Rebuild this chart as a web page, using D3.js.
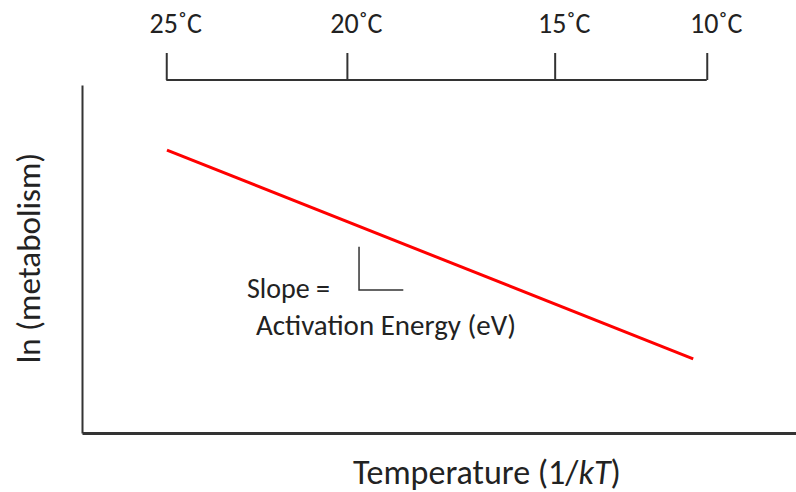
<!DOCTYPE html>
<html>
<head>
<meta charset="utf-8">
<script src="https://cdn.jsdelivr.net/npm/d3@7"></script>
<style>
  html, body { margin: 0; padding: 0; background: #fff; }
  svg { display: block; font-family: Carlito, Lato, "Open Sans", sans-serif; }
</style>
</head>
<body>
<svg id="chart" width="796" height="492"></svg>
<script>
// Temperature ticks on the top axis (position in 1/kT-like units, arbitrary scale)
const tempLabels = ["25˚C", "20˚C", "15˚C", "10˚C"];
const tempPositions = [11.8, 37.1, 66.2, 87.5];

// Red line: ln(metabolism) vs 1/kT (arbitrary units)
const lineX = [11.9, 85.6];
const lineY = [81.3, 21.3];

// Slope annotation corner (x, y in data units)
const slopeX = [38.8, 45.0];
const slopeY = [53.5, 41.1];

const axisLabelX = "Temperature (1/kT)";
const axisLabelY = "ln (metabolism)";
const slopeText = ["Slope =", "Activation Energy (eV)"];

const svg = d3.select("#chart");
const x = d3.scaleLinear().domain([0, 100]).range([82, 796]);
const y = d3.scaleLinear().domain([0, 100]).range([433, 85]);

const axisColor = "#333";
const textColor = "#222";
const FONT = "Carlito, Lato, sans-serif";

// Left / bottom axis lines (no ticks)
svg.append("g")
  .attr("transform", `translate(0,${y(0)})`)
  .call(d3.axisBottom(x).tickValues([]).tickSizeOuter(0))
  .call(g => g.select(".domain").attr("stroke", axisColor).attr("stroke-width", 3));
svg.append("g")
  .attr("transform", `translate(${x(0)},0)`)
  .call(d3.axisLeft(y).tickValues([]).tickSizeOuter(0))
  .call(g => g.select(".domain").attr("stroke", axisColor).attr("stroke-width", 2));

// Top temperature axis
const topG = svg.append("g")
  .attr("transform", "translate(0,80)")
  .call(d3.axisTop(x).tickValues(tempPositions)
        .tickFormat((d, i) => tempLabels[i]).tickSize(27).tickPadding(20).tickSizeOuter(0));
topG.attr("font-family", FONT).attr("font-size", 28);
topG.select(".domain").remove();
topG.insert("line", ":first-child")
  .attr("x1", x(tempPositions[0])).attr("x2", x(tempPositions[tempPositions.length - 1]))
  .attr("y1", 0).attr("y2", 0)
  .attr("stroke", axisColor).attr("stroke-width", 2);
topG.selectAll(".tick line").attr("stroke", axisColor).attr("stroke-width", 2);
topG.selectAll(".tick text")
  .attr("fill", textColor).attr("dx", 9);

// Red line
const pts = lineX.map((d, i) => [d, lineY[i]]);
svg.append("path")
  .datum(pts)
  .attr("d", d3.line().x(d => x(d[0])).y(d => y(d[1])))
  .attr("fill", "none").attr("stroke", "#ff0000").attr("stroke-width", 3);

// Slope corner
svg.append("path")
  .datum([[slopeX[0], slopeY[0]], [slopeX[0], slopeY[1]], [slopeX[1], slopeY[1]]])
  .attr("d", d3.line().x(d => x(d[0])).y(d => y(d[1])))
  .attr("fill", "none").attr("stroke", axisColor).attr("stroke-width", 1.5);

svg.append("text").attr("x", 247).attr("y", 298)
  .attr("font-size", 28).attr("fill", textColor).text(slopeText[0]);
svg.append("text").attr("x", 256).attr("y", 335)
  .attr("font-size", 28).attr("fill", textColor)
  .attr("textLength", 260).attr("lengthAdjust", "spacingAndGlyphs")
  .text(slopeText[1]);

// Axis titles
const xt = svg.append("text").attr("x", 353).attr("y", 484)
  .attr("font-size", 34).attr("fill", textColor);
xt.append("tspan").text("Temperature (1/");
xt.append("tspan").attr("font-style", "italic").text("kT");
xt.append("tspan").text(")");

svg.append("text")
  .attr("transform", "translate(40,258) rotate(-90)")
  .attr("text-anchor", "middle")
  .attr("font-size", 33).attr("fill", textColor)
  .text(axisLabelY);
</script>
</body>
</html>
